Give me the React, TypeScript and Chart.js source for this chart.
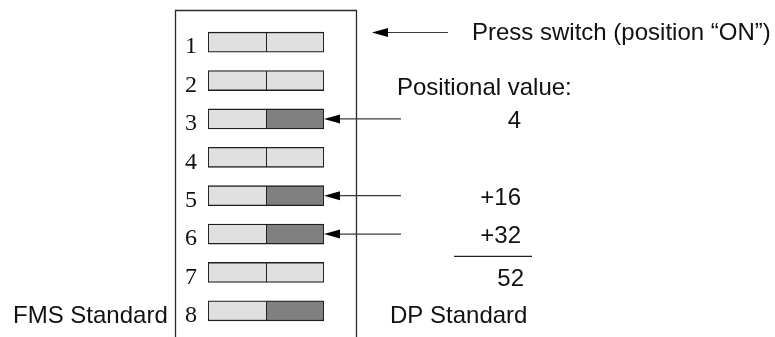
import React, { useEffect, useRef } from "react";
import { Chart, registerables } from "chart.js";

Chart.register(...registerables);

// DIP switch rows, top to bottom
const switchLabels = ["1", "2", "3", "4", "5", "6", "7", "8"];
// 1 = right half dark (switch pressed / ON)
const switchOn = [0, 0, 1, 0, 1, 1, 0, 1];
// positional value of switches 1..7
const positionalValues = [1, 2, 4, 8, 16, 32, 64];
// each switch drawn as two equal halves
const leftHalf = [1, 1, 1, 1, 1, 1, 1, 1];
const rightHalf = [1, 1, 1, 1, 1, 1, 1, 1];

const pressText = "Press switch (position \u201CON\u201D)";
const positionalText = "Positional value:";
const leftStandardText = "FMS Standard";
const rightStandardText = "DP Standard";

const LIGHT = "#e0e0e0";
const DARK = "#808080";
const EDGE = "#1e1e1e";
const SANS = '24px "Liberation Sans", Arial, sans-serif';

function drawArrow(ctx: CanvasRenderingContext2D, tipX: number, y: number, tailX: number) {
  ctx.save();
  ctx.strokeStyle = "#3a3a3a";
  ctx.lineWidth = 1.2;
  ctx.beginPath();
  ctx.moveTo(tailX, y);
  ctx.lineTo(tipX + 8, y);
  ctx.stroke();
  ctx.fillStyle = "#000";
  ctx.beginPath();
  ctx.moveTo(tipX, y);
  ctx.lineTo(tipX + 16, y - 4.5);
  ctx.lineTo(tipX + 16, y + 4.5);
  ctx.closePath();
  ctx.fill();
  ctx.restore();
}

const overlay = {
  id: "overlay",
  afterDatasetsDraw(chart: any) {
    const ctx: CanvasRenderingContext2D = chart.ctx;
    const yScale = chart.scales.y;
    const meta = chart.getDatasetMeta(1);
    ctx.save();

    // enclosing box (open at the bottom)
    ctx.strokeStyle = "#2a2a2a";
    ctx.lineWidth = 1.3;
    ctx.beginPath();
    ctx.moveTo(175.5, 340);
    ctx.lineTo(175.5, 10.5);
    ctx.lineTo(356.5, 10.5);
    ctx.lineTo(356.5, 340);
    ctx.stroke();

    // top arrow + label
    drawArrow(ctx, 372, 32.5, 448);
    ctx.fillStyle = "#111";
    ctx.font = SANS;
    ctx.textBaseline = "alphabetic";
    ctx.textAlign = "left";
    ctx.fillText(pressText, 472, 40);
    ctx.fillText(positionalText, 397, 95);

    // arrows and values for ON switches 1..7
    let first = true;
    let total = 0;
    for (let i = 0; i < positionalValues.length; i++) {
      if (!switchOn[i]) continue;
      const bar = meta.data[i];
      drawArrow(ctx, bar.x, bar.y, 401);
      ctx.textAlign = "right";
      ctx.fillText((first ? "" : "+") + positionalValues[i], 521, bar.y + 9);
      first = false;
      total += positionalValues[i];
    }

    // sum line and total
    const ySum = yScale.getPixelForValue(6);
    ctx.strokeStyle = "#222";
    ctx.lineWidth = 1.2;
    ctx.beginPath();
    ctx.moveTo(454, ySum - 16);
    ctx.lineTo(532, ySum - 16);
    ctx.stroke();
    ctx.textAlign = "right";
    ctx.fillText(String(total), 524, ySum + 14);

    // standards
    const yLast = yScale.getPixelForValue(7);
    ctx.textAlign = "left";
    ctx.fillText(leftStandardText, 13, yLast + 12.5);
    ctx.fillText(rightStandardText, 390, yLast + 12.5);

    ctx.restore();
  },
};

export default function App() {
  const canvasRef = useRef<HTMLCanvasElement | null>(null);

  useEffect(() => {
    if (!canvasRef.current) return;
    const chart = new Chart(canvasRef.current, {
      type: "bar",
      data: {
        labels: switchLabels,
        datasets: [
          {
            data: leftHalf,
            backgroundColor: LIGHT,
            borderColor: EDGE,
            borderWidth: 1.3,
            borderSkipped: "right",
            barThickness: 20,
          },
          {
            data: rightHalf,
            backgroundColor: switchOn.map((s) => (s ? DARK : LIGHT)),
            borderColor: EDGE,
            borderWidth: 1.3,
            borderSkipped: false,
            barThickness: 20,
          },
        ],
      },
      options: {
        indexAxis: "y",
        animation: false,
        responsive: true,
        maintainAspectRatio: false,
        events: [],
        layout: { padding: { left: 0, right: 451, top: 23, bottom: 7 } },
        plugins: { legend: { display: false }, tooltip: { enabled: false } },
        scales: {
          x: { stacked: true, display: false, min: 0, max: 2 },
          y: {
            stacked: true,
            grid: { display: false, drawTicks: false },
            border: { display: false },
            ticks: {
              color: "#111",
              font: { family: '"Liberation Serif", "Times New Roman", serif', size: 24 },
              padding: 11,
              labelOffset: 5,
            },
            afterFit: (s: any) => {
              s.width = 208;
              s.paddingTop = 0;
              s.paddingBottom = 0;
            },
          },
        },
      },
      plugins: [overlay],
    });
    return () => chart.destroy();
  }, []);

  return (
    <div style={{ position: "fixed", left: 0, top: 0, width: 775, height: 337, background: "#fff" }}>
      <canvas ref={canvasRef} />
    </div>
  );
}
